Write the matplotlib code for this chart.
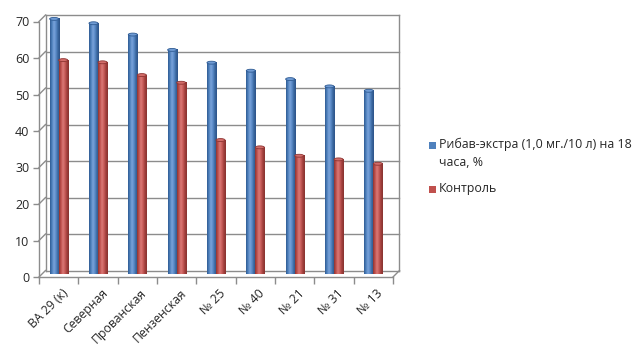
import numpy as np
import matplotlib
matplotlib.use("Agg")
import matplotlib.pyplot as plt
from matplotlib.transforms import ScaledTranslation
from matplotlib.patches import Ellipse, Rectangle
from matplotlib.colors import LinearSegmentedColormap
from matplotlib.lines import Line2D

plt.rcParams['font.family'] = ['Open Sans', 'DejaVu Sans']

categories = ["ВА 29 (к)", "Северная", "Прованская", "Пензенская",
              "№ 25", "№ 40", "№ 21", "№ 31", "№ 13"]
ribav = [69.9, 68.7, 65.6, 61.4, 57.9, 55.7, 53.4, 51.4, 50.2]
control = [58.6, 58.0, 54.5, 52.4, 36.7, 34.7, 32.4, 31.4, 30.2]
series_names = ["Рибав-экстра (1,0 мг./10 л) на 18\nчаса, %", "Контроль"]
y_ticks = [0, 10, 20, 30, 40, 50, 60, 70]

W, H, DPI = 635, 347, 100
fig = plt.figure(figsize=(W / DPI, H / DPI), dpi=DPI)

# front plane of the pseudo-3D plot area (pixels)
left_px, right_px, bottom_px, unit_px = 39, 393, 277, 3.65
top_px = bottom_px - unit_px * 70
ax = fig.add_axes([left_px / W, (H - bottom_px) / H,
                   (right_px - left_px) / W, (bottom_px - top_px) / H])
ax.set_facecolor('none')
ax.set_xlim(-0.5, len(categories) - 0.5)
ax.set_ylim(0, 70)

def px(dx, dy):
    return ScaledTranslation(dx / DPI, dy / DPI, fig.dpi_scale_trans)

depth = 6.5
back = ax.transData + px(depth, depth)
bar_plane = ax.transData + px(0, 3)

grid_col = '#8c8c8c'
x0, x1 = -0.5, len(categories) - 0.5

# back wall with gridlines
for v in y_ticks[1:]:
    ax.plot([x0, x1], [v, v], color=grid_col, lw=1.0, transform=back,
            zorder=0, clip_on=False)
ax.plot([x0, x0], [0, 70], color=grid_col, lw=1.0, transform=back, zorder=0, clip_on=False)
ax.plot([x1, x1], [0, 70], color=grid_col, lw=1.0, transform=back, zorder=0, clip_on=False)
ax.plot([x0, x1], [0, 0], color=grid_col, lw=1.0, transform=back, zorder=0, clip_on=False)

# side-wall diagonals joining the front axis to the back wall
fig.canvas.draw()
def disp(t, x, y):
    return t.transform((x, y))
for v in y_ticks:
    p0 = disp(ax.transData, x0, v)
    p1 = disp(back, x0, v)
    fig.add_artist(Line2D([p0[0], p1[0]], [p0[1], p1[1]], color=grid_col,
                          lw=1.0, transform=None, zorder=0))
p0 = disp(ax.transData, x1, 0)
p1 = disp(back, x1, 0)
fig.add_artist(Line2D([p0[0], p1[0]], [p0[1], p1[1]], color=grid_col,
                      lw=1.0, transform=None, zorder=0))

# cylinders
n = len(categories)
xs = np.arange(n)
bw = 0.23
blue_cmap = LinearSegmentedColormap.from_list(
    'b', ['#2f5b93', '#4f81bd', '#7aa3da', '#5b8bc8', '#3a679f', '#2c5388'])
red_cmap = LinearSegmentedColormap.from_list(
    'r', ['#8e3431', '#c0504d', '#da7a77', '#c85c59', '#a13f3c', '#863230'])
grad = np.linspace(0, 1, 64).reshape(1, -1)

def cylinders(offset, values, cmap, top_col, edge_col):
    bars = ax.bar(xs + offset, values, width=bw, color='none', edgecolor='none',
                  transform=bar_plane, zorder=3, clip_on=False)
    for rect, v in zip(bars, values):
        xl = rect.get_x()
        im = ax.imshow(grad, cmap=cmap, aspect='auto',
                       extent=[xl, xl + bw, 0, v], transform=bar_plane,
                       zorder=3, interpolation='bilinear', clip_on=False)
        im.set_clip_path(rect)
        ax.add_patch(Ellipse((xl + bw / 2, v), bw, 0.8, transform=bar_plane,
                             facecolor=top_col, edgecolor=edge_col, lw=0.6,
                             zorder=4, clip_on=False))

cylinders(-bw / 2, ribav, blue_cmap, '#6f9bd4', '#2f5b93')
cylinders(bw / 2, control, red_cmap, '#d26c69', '#8e3431')

ax.set_xlim(x0, x1)
ax.set_ylim(0, 70)

# axes lines and ticks
for s in ['top', 'right']:
    ax.spines[s].set_visible(False)
for s in ['left', 'bottom']:
    ax.spines[s].set_color(grid_col)
    ax.spines[s].set_linewidth(1.0)
ax.set_yticks(y_ticks)
ax.tick_params(axis='y', colors=grid_col, length=4, width=1.0, labelsize=9,
               labelcolor='#262626', pad=3)
ax.set_xticks(xs)
ax.set_xticklabels(categories, rotation=45, ha='right', va='top',
                   rotation_mode='anchor', fontsize=8.8, color='#262626')
ax.set_xticks(np.arange(n + 1) - 0.5, minor=True)
ax.tick_params(axis='x', which='major', length=0, pad=7)
ax.tick_params(axis='x', which='minor', length=5, width=1.0, colors=grid_col)
for lab in ax.get_xticklabels():
    lab.set_transform(lab.get_transform() + px(3, 0))

# legend
leg_items = [(series_names[0], '#4f81bd', 145), (series_names[1], '#c0504d', 189)]
for text, col, yc in leg_items:
    fig.add_artist(Rectangle((429 / W, 1 - (yc + 3.5) / H), 6.5 / W, 6.5 / H,
                             transform=fig.transFigure, facecolor=col,
                             edgecolor='none'))
    fig.text(439 / W, 1 - (yc - 7) / H, text, fontsize=8.9, color='#262626',
             va='top', ha='left', linespacing=1.45)

fig.savefig('out.png', dpi=DPI)
